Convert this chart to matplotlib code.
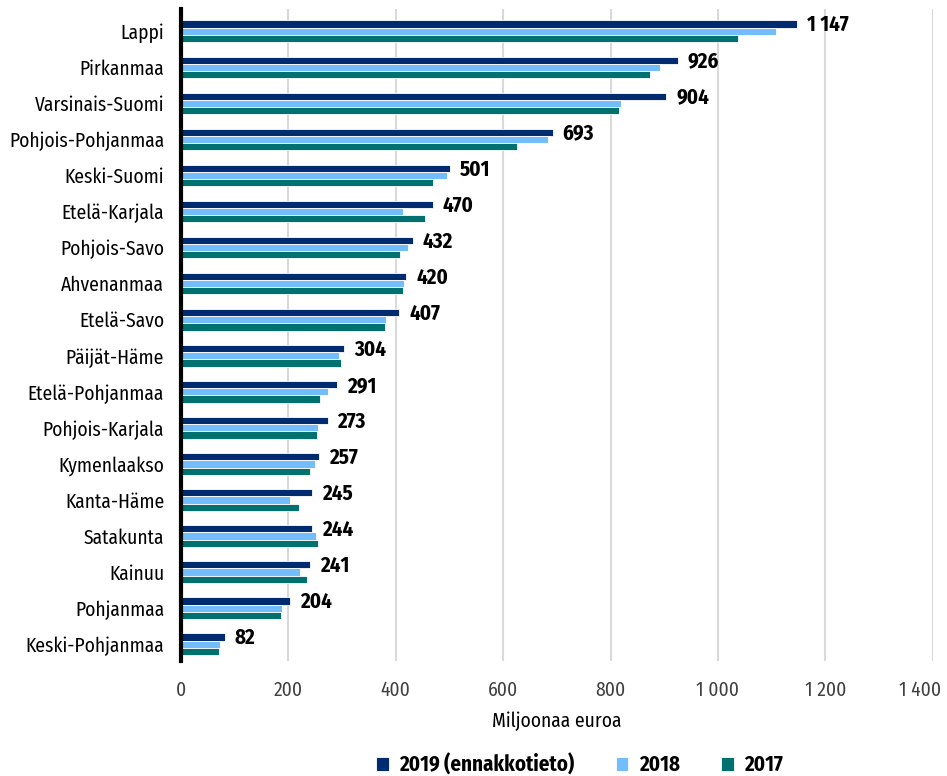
import matplotlib.pyplot as plt
import numpy as np
from matplotlib.ticker import FuncFormatter
from matplotlib.transforms import ScaledTranslation

plt.rcParams['font.family'] = ['Fira Sans Condensed', 'DejaVu Sans']
plt.rcParams['font.stretch'] = 'condensed'

# Data (million euros)
regions = ['Lappi', 'Pirkanmaa', 'Varsinais-Suomi', 'Pohjois-Pohjanmaa', 'Keski-Suomi',
           'Etelä-Karjala', 'Pohjois-Savo', 'Ahvenanmaa', 'Etelä-Savo', 'Päijät-Häme',
           'Etelä-Pohjanmaa', 'Pohjois-Karjala', 'Kymenlaakso', 'Kanta-Häme', 'Satakunta',
           'Kainuu', 'Pohjanmaa', 'Keski-Pohjanmaa']
v2019 = [1147, 926, 904, 693, 501, 470, 432, 420, 407, 304, 291, 273, 257, 245, 244, 241, 204, 82]
v2018 = [1108, 893, 819, 683, 495, 413, 423, 415, 382, 294, 274, 255, 250, 203, 251, 222, 189, 73]
v2017 = [1037, 873, 815, 626, 469, 454, 408, 413, 380, 298, 259, 253, 240, 220, 255, 234, 187, 71]
series_names = ['2019 (ennakkotieto)', '2018', '2017']
colors = ['#002b6e', '#74bdfc', '#00716e']


def fmt(v, pos=None):
    return f'{int(v):,}'.replace(',', ' ')


fig = plt.figure(figsize=(9.47, 7.76), dpi=100)
ax = fig.add_axes([0.191, 0.148, 0.794, 0.840])

y = np.arange(len(regions))
h = 0.2
for i, (vals, name, c) in enumerate(zip([v2019, v2018, v2017], series_names, colors)):
    ax.barh(y + (i - 1) * h, vals, height=h, color=c, edgecolor='white',
            linewidth=0.6, label=name, zorder=3)

for yi, v in zip(y, v2019):
    ax.text(v + 18, yi - 0.17, fmt(v), va='center', ha='left',
            fontsize=15, fontweight='bold', color='black')

ax.set_ylim(len(regions) - 0.53, -0.61)
ax.set_xlim(0, 1400)
ax.set_xticks(np.arange(0, 1401, 200))
ax.xaxis.set_major_formatter(FuncFormatter(fmt))
ax.set_yticks(y)
ax.set_yticklabels(regions)
ax.tick_params(axis='y', length=0, labelsize=14, pad=12)
ax.tick_params(axis='x', length=0, labelsize=14, pad=14, colors='#404040')
ax.grid(axis='x', color='#d9d9d9', linewidth=1.5, zorder=0)
for s in ['top', 'right', 'bottom']:
    ax.spines[s].set_visible(False)
ax.spines['left'].set_linewidth(3)
ax.spines['left'].set_color('black')
ax.spines['left'].set_zorder(4)
ax.set_xlabel('Miljoonaa euroa', fontsize=14, labelpad=8)

# keep the last tick label inside the figure
last = ax.xaxis.get_major_ticks()[-1].label1
last.set_transform(last.get_transform() + ScaledTranslation(-9 / 72, 0, fig.dpi_scale_trans))

fig.legend(loc='lower center', bbox_to_anchor=(0.612, -0.024), ncol=3, frameon=False,
           handlelength=0.6, handleheight=0.6, columnspacing=2.0, handletextpad=0.5,
           prop={'size': 15, 'weight': 'bold'})

fig.savefig('out.png', dpi=100)
